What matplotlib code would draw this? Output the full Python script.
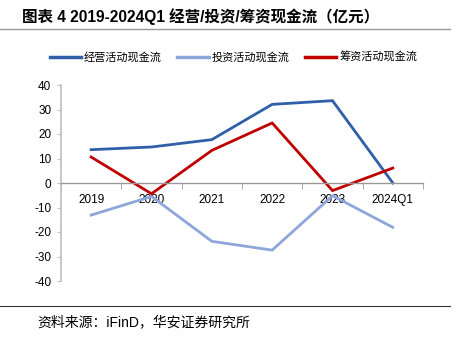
import matplotlib
matplotlib.use('Agg')
import matplotlib.pyplot as plt
from matplotlib.lines import Line2D

plt.rcParams['font.family'] = ['Liberation Sans', 'Noto Sans CJK SC', 'DejaVu Sans']

years = ['2019', '2020', '2021', '2022', '2023', '2024Q1']
operating = [13.6, 14.7, 17.7, 32.1, 33.6, 0.0]
investing = [-13.1, -5.5, -23.8, -27.4, -5.2, -18.1]
financing = [10.6, -4.4, 13.3, 24.5, -3.1, 6.1]
series_names = ['经营活动现金流', '投资活动现金流', '筹资活动现金流']
colors = ['#2E5FA8', '#8FA6DA', '#C00000']
yticks = [-40, -30, -20, -10, 0, 10, 20, 30, 40]

fig = plt.figure(figsize=(4.58, 3.44), dpi=100)
ax = fig.add_axes([61 / 458, 1 - 281 / 344, (423 - 61) / 458, (281 - 85) / 344])

x = list(range(len(years)))
for vals, c in zip([operating, investing, financing], colors):
    ax.plot(x, vals, color=c, linewidth=2.0, solid_joinstyle='miter')

ax.set_xlim(-0.5, len(years) - 0.5)
ax.set_ylim(-40, 40)
ax.set_yticks(yticks)
ax.set_yticklabels([str(v) for v in yticks], fontsize=8.5)

for s in ['top', 'right']:
    ax.spines[s].set_visible(False)
ax.spines['left'].set_color('#BFBFBF')
ax.spines['left'].set_linewidth(1.2)
ax.spines['bottom'].set_position(('data', 0))
ax.spines['bottom'].set_color('#999999')
ax.spines['bottom'].set_linewidth(1.0)
ax.tick_params(axis='y', length=3, color='#BFBFBF', pad=4)

ax.set_xticks(x)
ax.set_xticklabels(years, fontsize=8.5)
ax.set_xticks([i + 0.5 for i in range(-1, len(years))], minor=True)
ax.tick_params(axis='x', which='major', length=0, pad=8)
ax.tick_params(axis='x', which='minor', length=4, color='#999999', direction='out')

handles = [Line2D([0], [0], color=c, linewidth=2.5) for c in colors]
fig.legend(handles, series_names, loc='center', bbox_to_anchor=(0.51, 1 - 57 / 344),
           ncol=3, frameon=False, fontsize=8, handlelength=2.8, handletextpad=0.3,
           columnspacing=1.4)

fig.text(22 / 458, 1 - 17 / 344, '图表 4 2019-2024Q1 经营/投资/筹资现金流（亿元）',
         fontsize=11.2, fontweight='bold', va='center', ha='left')
fig.add_artist(Line2D([0, 450 / 458], [1 - 29 / 344] * 2, color='#999999', linewidth=1.0))
fig.add_artist(Line2D([0, 450 / 458], [1 - 306 / 344] * 2, color='#333333', linewidth=0.8))
fig.text(37 / 458, 1 - 322 / 344, '资料来源：iFinD，华安证券研究所', fontsize=10,
         va='center', ha='left')

fig.savefig('out.png', dpi=100)
